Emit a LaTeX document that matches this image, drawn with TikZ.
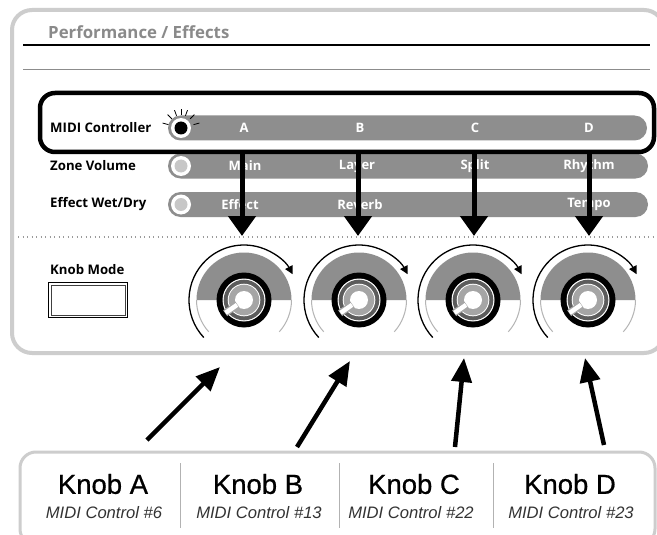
\documentclass[tikz,border=0pt]{standalone}
\usepackage{fontspec}
\setmainfont{Open Sans}
\newfontfamily\helv{Liberation Sans}
\newfontfamily\helvmed{Liberation Sans}[FakeBold=0.7]
\usetikzlibrary{arrows.meta}
\definecolor{panelgray}{HTML}{CDCDCD}
\definecolor{pillgray}{HTML}{8E8E8E}
\definecolor{titlegray}{HTML}{8A8A8A}
\definecolor{ringdark}{HTML}{5C5C5C}
\definecolor{ringlight}{HTML}{A5A5A5}
\definecolor{arcgray}{HTML}{B4B4B4}
\definecolor{dotgray}{HTML}{9A9A9A}
\tikzset{
  rowlabel/.style={anchor=west, inner sep=0pt, font=\fontsize{13.2}{15}\selectfont\bfseries},
  pilltext/.style={inner sep=0pt, text=white, font=\fontsize{13}{15}\selectfont\bfseries},
  pill/.style={fill=pillgray, rounded corners=12.5pt},
  bigarrow/.style={line width=5pt, -{Triangle[length=20pt,width=27pt]}},
  uparrow/.style={line width=4.5pt, -{Triangle[length=24pt,width=20pt]}},
  knobname/.style={inner sep=0pt, font=\helvmed\fontsize{27.5}{30}\selectfont},
  knobcc/.style={inner sep=0pt, text=black!80, font=\helv\itshape\fontsize{16.6}{18}\selectfont},
}
\begin{document}
\begin{tikzpicture}[x=1pt,y=-1pt]
\useasboundingbox (0,0) rectangle (657,535);
\clip (0,0) rectangle (657,535);
\fill[white] (0,0) rectangle (657,535);

% upper panel
\draw[panelgray, line width=4pt, rounded corners=20pt] (12,10) rectangle (664,353);
\node[anchor=west, inner sep=0pt, text=titlegray, font=\fontsize{16.8}{19}\selectfont\bfseries] (title) at (48,32) {Performance / Effects};
\draw[black, line width=1.2pt] (23,45) -- (650,45);
\draw[black!45, line width=1pt] (23,70) -- (650,70);

% pills
\fill[pill] (168,115.5) rectangle (647,140.5);
\fill[pill] (168,153.5) rectangle (648,178.5);
\fill[pill] (168,192) rectangle (648,217);

% row labels
\node[rowlabel] (rmidi) at (50,128) {MIDI Controller};
\node[rowlabel] (rzone) at (50,166) {Zone Volume};
\node[rowlabel] (rwet) at (50,204.5) {Effect Wet/Dry};

% LEDs
\fill[white] (181,128) circle (10);
\fill[black] (181,128) circle (6.5);
\fill[white] (181,166) circle (10);
\fill[black!22] (181,166) circle (6.5);
\fill[white] (181,204.5) circle (10);
\fill[black!22] (181,204.5) circle (6.5);
\begin{scope}[shift={(181,128)}, yscale=-1]
  \foreach \a in {165,135,110,90,70,45,15}
    \draw[line width=0.8pt] (\a:13) -- (\a:19);
\end{scope}

% pill texts
\node[pilltext] (tA) at (244,128) {A};
\node[pilltext] (tB) at (360,128) {B};
\node[pilltext] (tC) at (475,128) {C};
\node[pilltext] (tD) at (589,128) {D};
\node[pilltext] (zA) at (245,166) {Main};
\node[pilltext] (zB) at (357,166) {Layer};
\node[pilltext] (zC) at (475,166) {Split};
\node[pilltext] (zD) at (589,166) {Rhythm};
\node[pilltext] (eA) at (240,204.5) {Effect};
\node[pilltext] (eB) at (360,204.5) {Reverb};
\node[pilltext] (eD) at (589,204.5) {Tempo};

% MIDI highlight box
\node[draw=black, line width=4.5pt, rounded corners=15pt, inner sep=0pt,
      minimum width=614pt, minimum height=59pt] (midibox) at (347,122.5) {};

% dotted separator
\draw[dotgray, line width=1.3pt, dash pattern=on 1.3pt off 3.2pt] (18,237) -- (657,237);

% knob mode
\node[rowlabel] (kmlabel) at (50,270) {Knob Mode};
\node[draw=black, line width=1pt, inner sep=0pt, minimum width=79pt, minimum height=35pt] (kmbox) at (88,300) {};
\node[draw=black!75, line width=0.9pt, inner sep=0pt, minimum width=74pt, minimum height=30pt] (kmboxin) at (kmbox.center) {};

% knobs
\foreach \cx/\n in {244/A,359/B,473/C,588/D} {
  \coordinate (k\n) at (\cx,300);
  \begin{scope}[shift={(\cx,300)}, yscale=-1]
    \fill[pillgray] (0:47.5) arc[start angle=0, end angle=180, radius=47.5] -- cycle;
    \draw[arcgray, line width=1pt] (180:47.5) arc[start angle=180, end angle=222, radius=47.5];
    \draw[arcgray, line width=1pt] (-42:47.5) arc[start angle=-42, end angle=0, radius=47.5];
    \draw[line width=1.3pt, -{Triangle[length=8pt,width=8pt]}] (223:55) arc[start angle=223, end angle=28, radius=55];
    \fill[black] (0,0) circle (27.5);
    \fill[white] (0,0) circle (21.5);
    \fill[ringdark] (0,0) circle (20.3);
    \fill[white] (0,0) circle (16.3);
    \fill[ringlight] (0,0) circle (15.3);
    \fill[white] (0,0) circle (9);
    \draw[ringlight, line width=7pt] (215:8) -- (215:23);
    \draw[white, line width=4.5pt] (215:8.5) -- (215:22.5);
  \end{scope}
}

% arrows from MIDI box to knobs
\coordinate (pA) at (242,236);
\coordinate (pB) at (358,236);
\coordinate (pC) at (474,236);
\coordinate (pD) at (589,236);
\foreach \n in {A,B,C,D}
  \draw[bigarrow] (midibox.south -| p\n) -- (p\n);

% lower labels panel
\draw[panelgray, line width=3pt, rounded corners=16pt] (20,452) rectangle (655,545);
\draw[black!30, line width=1pt] (180,463) -- (180,528);
\draw[black!30, line width=1pt] (339,463) -- (339,528);
\draw[black!30, line width=1pt] (493,463) -- (493,528);
\node[knobname] (nA) at (103,484) {Knob A};
\node[knobname] (nB) at (258,484) {Knob B};
\node[knobname] (nC) at (414,484) {Knob C};
\node[knobname] (nD) at (570,484) {Knob D};
\node[knobcc] (cA) at (104,513) {MIDI Control \#6};
\node[knobcc] (cB) at (259,513) {MIDI Control \#13};
\node[knobcc] (cC) at (411,513) {MIDI Control \#22};
\node[knobcc] (cD) at (571,513) {MIDI Control \#23};

% arrows from labels up to knobs
\coordinate (sA) at (147,440); \coordinate (eA2) at (220,367);
\coordinate (sB) at (297,447); \coordinate (eB2) at (350,361);
\coordinate (sC) at (455,447); \coordinate (eC2) at (464,358);
\coordinate (sD) at (604,445); \coordinate (eD2) at (585,358);
\draw[uparrow] (sA) -- (eA2);
\draw[uparrow] (sB) -- (eB2);
\draw[uparrow] (sC) -- (eC2);
\draw[uparrow] (sD) -- (eD2);
\end{tikzpicture}
\end{document}
